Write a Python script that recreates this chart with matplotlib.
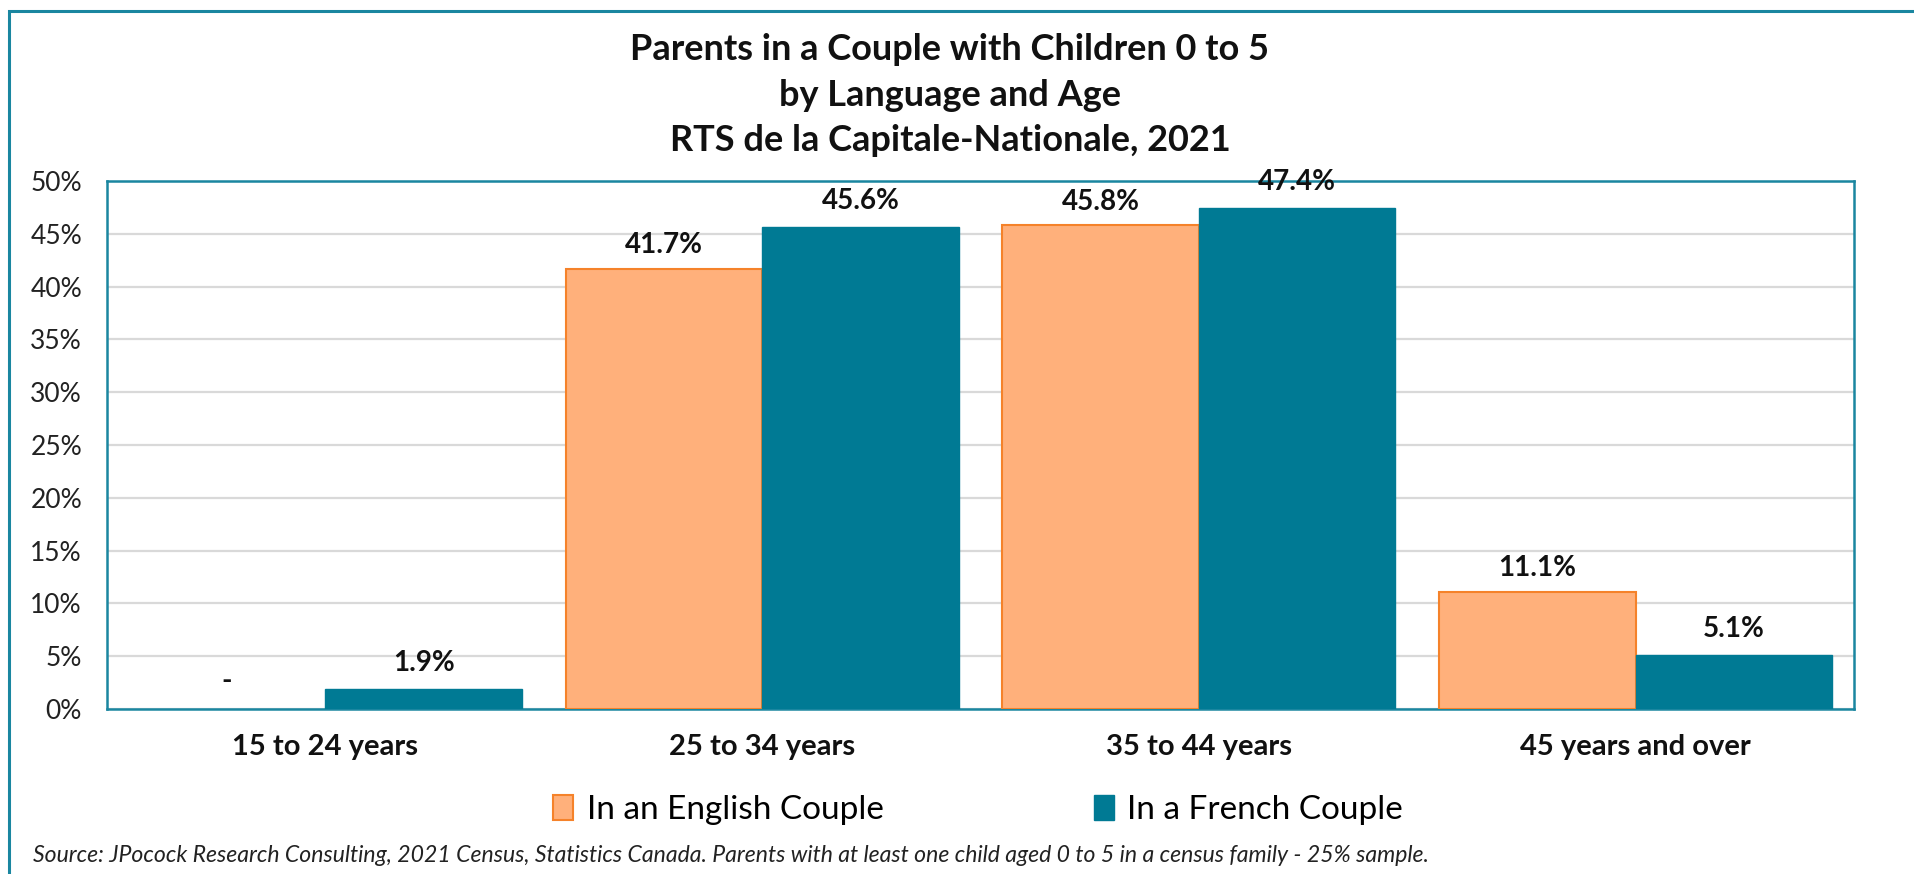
import numpy as np
import matplotlib
matplotlib.use("Agg")
import matplotlib.pyplot as plt
from matplotlib.patches import Rectangle, Patch

plt.rcParams['font.family'] = ['Lato', 'DejaVu Sans']

# data
categories = ["15 to 24 years", "25 to 34 years", "35 to 44 years", "45 years and over"]
english = [0.0, 41.7, 45.8, 11.1]
french = [1.9, 45.6, 47.4, 5.1]
english_labels = ["-", "41.7%", "45.8%", "11.1%"]
french_labels = ["1.9%", "45.6%", "47.4%", "5.1%"]
series_names = ["In an English Couple", "In a French Couple"]

teal = "#007A94"
frame = "#1A86A0"
orange = "#FFB07B"
orange_edge = "#F5822A"

W, H = 1914, 874
fig = plt.figure(figsize=(W / 100, H / 100), dpi=100)

# outer frame of the chart area
fig.patches.append(Rectangle((9 / W, -0.1), 1.2, 1 - 11 / H + 0.1, transform=fig.transFigure,
                             fill=False, edgecolor=frame, linewidth=2.2, zorder=0))

ax = fig.add_axes([107 / W, 1 - 709 / H, 1747 / W, 528 / H])

x = np.arange(len(categories))
w = 0.45
b1 = ax.bar(x - w / 2, english, w, color=orange, edgecolor=orange_edge, linewidth=1.5, zorder=3)
b2 = ax.bar(x + w / 2, french, w, color=teal, edgecolor=teal, linewidth=1, zorder=3)
for rect in list(b1) + list(b2):
    if rect.get_height() == 0:
        rect.set_visible(False)

for rect, lab in zip(b1, english_labels):
    off = 20 if rect.get_height() == 0 else 17
    ax.annotate(lab, (rect.get_x() + rect.get_width() / 2, rect.get_height()),
                xytext=(0, off), textcoords="offset points", ha="center", va="center",
                fontsize=20, fontweight="bold", color="#111111", zorder=5)
for rect, lab in zip(b2, french_labels):
    ax.annotate(lab, (rect.get_x() + rect.get_width() / 2, rect.get_height()),
                xytext=(0, 19), textcoords="offset points", ha="center", va="center",
                fontsize=20, fontweight="bold", color="#111111", zorder=5)

ax.set_xlim(-0.5, 3.5)
ax.set_ylim(0, 50)
ax.set_yticks(np.arange(0, 51, 5))
ax.set_yticklabels([f"{v}%" for v in range(0, 51, 5)], fontsize=19, color="#222222")
ax.set_xticks(x)
ax.set_xticklabels(categories, fontsize=21, fontweight="bold", color="#111111")
ax.tick_params(axis="both", length=0)
ax.tick_params(axis="x", pad=18)
ax.tick_params(axis="y", pad=18)
ax.yaxis.grid(True, color="#D9D9D9", linewidth=1.6, zorder=0)
ax.set_axisbelow(True)
for s in ax.spines.values():
    s.set_color(frame)
    s.set_linewidth(1.8)

fig.text(950 / W, 1 - 95 / H,
         "Parents in a Couple with Children 0 to 5\nby Language and Age\nRTS de la Capitale-Nationale, 2021",
         ha="center", va="center", fontsize=26, fontweight="bold", linespacing=1.45, color="#111111")

handles = [Patch(facecolor=orange, edgecolor=orange_edge, linewidth=1.5),
           Patch(facecolor=teal, edgecolor=teal)]
fig.legend(handles, series_names, loc="center", bbox_to_anchor=(978 / W, 1 - 810 / H),
           ncol=2, frameon=False, fontsize=24, handlelength=0.6, handleheight=0.8,
           handletextpad=0.4, columnspacing=6.3)

fig.text(33 / W, 1 - 866 / H,
         "Source: JPocock Research Consulting, 2021 Census, Statistics Canada. Parents with at least one child aged 0 to 5 in a census family - 25% sample.",
         ha="left", va="bottom", fontsize=16.6, style="italic", color="#222222")

fig.savefig("out.png", dpi=100)
